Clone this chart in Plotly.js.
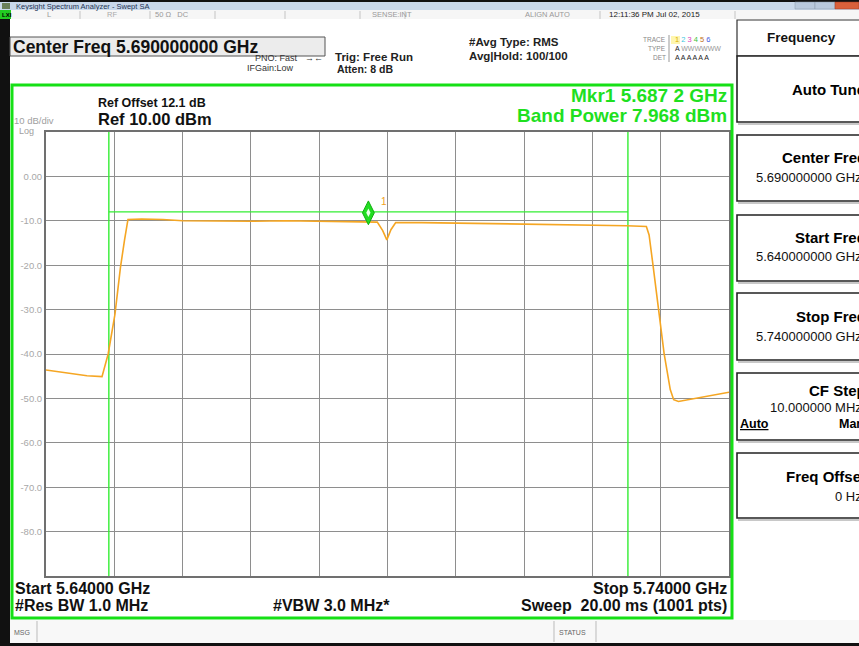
<!DOCTYPE html>
<html><head><meta charset="utf-8">
<script src="https://cdn.plot.ly/plotly-3.0.1.min.js"></script>
<style>html,body{margin:0;padding:0;background:#fff;overflow:hidden}#chart{width:859px;height:646px}</style>
</head><body><div id="chart"></div>
<script>
// ---- data ----
const freqGHz = [5.6400, 5.6420, 5.6440, 5.6460, 5.6482, 5.6491, 5.6501, 5.6509, 5.6515, 5.6520,
  5.6540, 5.6571, 5.6600, 5.6640, 5.6700, 5.6750, 5.6800, 5.6850, 5.6885, 5.6893, 5.6899, 5.6905,
  5.6912, 5.6950, 5.7000, 5.7050, 5.7100, 5.7150, 5.7200, 5.7250, 5.7279, 5.7283, 5.7289, 5.7297,
  5.7305, 5.7314, 5.7319, 5.7326, 5.7350, 5.7380, 5.7400];
const traceDbm = [-43.6, -44.0, -44.5, -44.9, -45.1, -40.0, -31.0, -20.5, -14.3, -9.7,
  -9.6, -9.7, -10.0, -10.1, -10.1, -10.0, -10.1, -10.2, -10.3, -12.2, -14.3, -12.0,
  -10.4, -10.4, -10.5, -10.6, -10.7, -10.8, -11.0, -11.1, -11.3, -13.2, -20.3, -30.1,
  -39.9, -48.0, -50.3, -50.7, -50.0, -49.1, -48.6];
const bandEdgesGHz = [5.6492, 5.7252];
const bandLevelDbm = [-8.0];
const markerFreqGHz = [5.6872];
const markerDbm = [-8.2];
const xRange = [5.64, 5.74];
const yRange = [-90, 10];
const yTickVals = [0, -10, -20, -30, -40, -50, -60, -70, -80];
const yTickText = ['0.00', '-10.0', '-20.0', '-30.0', '-40.0', '-50.0', '-60.0', '-70.0', '-80.0'];

// ---- page geometry helpers (pixel -> paper) ----
const W = 859, H = 646, L = 46, R = 729, T = 132, B = 576;
const px = x => (x - L) / (R - L);
const py = y => (B - y) / (B - T);
const F = 'Liberation Sans, Arial, sans-serif';
const ann = [];
function A(text, x, y, o) {
  o = o || {};
  ann.push({text: text, xref: 'paper', yref: 'paper', x: px(x), y: py(y),
    xanchor: o.xa || 'left', yanchor: 'middle', showarrow: false,
    font: {family: F, size: o.s || 11, color: o.c || '#000'}});
}
const shp = [];
function Rct(x0, y0, x1, y1, fill, lc, lw) {
  shp.push({type: 'rect', xref: 'paper', yref: 'paper', x0: px(x0), x1: px(x1), y0: py(y0), y1: py(y1),
    fillcolor: fill || 'rgba(0,0,0,0)', line: {color: lc || 'rgba(0,0,0,0)', width: lw || 0}, layer: 'above'});
}
function Ln(x0, y0, x1, y1, lc, lw) {
  shp.push({type: 'line', xref: 'paper', yref: 'paper', x0: px(x0), x1: px(x1), y0: py(y0), y1: py(y1),
    line: {color: lc, width: lw || 1}, layer: 'above'});
}

// window chrome
Rct(0, 0, 859, 2, '#111');
Rct(0, 2, 859, 10, '#c9d8ea');
Rct(2, 3, 10, 9, '#6a7f5a');
A('Keysight Spectrum Analyzer - Swept SA', 14, 6, {s: 7.5, c: '#223355'});
Rct(795, 2, 815, 9, '#b8c8dc', '#8899aa', 0.5);
Rct(815, 2, 835, 9, '#b8c8dc', '#8899aa', 0.5);
Rct(835, 2, 859, 9, '#d9603b', '#a03a20', 0.5);
// status row
Rct(0, 10, 859, 19, '#f6f6f6');
Rct(0, 10, 11, 19, '#22cc22');
A('<b>LXI</b>', 0, 14.5, {s: 6, c: '#000'});
A('L', 45, 14.5, {s: 7.5, c: '#999'});
A('RF', 105, 14.5, {s: 7.5, c: '#aaa'});
A('50 Ω   DC', 153, 14.5, {s: 7.5, c: '#999'});
A('SENSE:INT', 370, 14.5, {s: 7.5, c: '#999'});
A('ALIGN AUTO', 523, 14.5, {s: 7.5, c: '#999'});
A('12:11:36 PM Jul 02, 2015', 607, 14.5, {s: 8, c: '#222'});
[80, 150, 215, 285, 360, 405, 600, 735].forEach(x => Ln(x, 11, x, 19, '#c4c4c4', 1));
// left black strip and bottom
Rct(0, 19, 10, 646, '#111');
Rct(0, 643, 859, 646, '#111');

// header
Rct(10, 37, 325, 56, '#ececec', '#555', 1);
A('<b>Center Freq 5.690000000 GHz</b>', 11, 47, {s: 17.5, c: '#111'});
A('PNO: Fast', 300, 58, {s: 9, c: '#333', xa: 'right'});
A('IFGain:Low', 296, 68, {s: 9, c: '#333', xa: 'right'});
A('→←', 303, 58, {s: 9, c: '#333'});
A('<b>Trig: Free Run</b>', 333, 56.5, {s: 11.5, c: '#222'});
A('<b>Atten: 8 dB</b>', 335, 69, {s: 10.5, c: '#222'});
A('<b>#Avg Type: RMS</b>', 467, 42, {s: 11.5, c: '#222'});
A('<b>Avg|Hold: 100/100</b>', 467, 56, {s: 11.5, c: '#222'});
A('TRACE', 668, 40, {s: 6.5, c: '#888', xa: 'right'});
A('TYPE', 668, 48.5, {s: 6.5, c: '#888', xa: 'right'});
A('DET', 668, 57, {s: 6.5, c: '#888', xa: 'right'});
Ln(669, 35, 669, 62, '#999', 1);
Rct(671, 36, 680, 44, '#fff6b0');
A('<span style="color:#d8b000">1</span> <span style="color:#40c8e0">2</span> <span style="color:#e040c0">3</span> <span style="color:#40c040">4</span> <span style="color:#c07020">5</span> <span style="color:#4060e0">6</span>', 673, 40, {s: 7.5});
A('A <span style="color:#999">WWWWWW</span>', 673, 48.5, {s: 7, c: '#222'});
A('A A A A A A', 673, 57, {s: 7, c: '#222'});

// soft key panel
Rct(735, 19, 870, 620, '#ffffff');
Rct(737, 20, 872, 56, '#ffffff', '#333', 1.2);
A('<b>Frequency</b>', 801, 38, {s: 13.5, c: '#111', xa: 'center'});
const keys = [[56, 122], [135, 201], [215, 281], [293, 360], [373, 440], [453, 518]];
keys.forEach(k => { Rct(737, k[0], 872, k[1], '#ffffff', '#222', 1.6); Ln(738, k[1] + 2, 870, k[1] + 2, '#c8c8c8', 2); });
A('<b>Auto Tune</b>', 867, 89, {s: 15, xa: 'right'});
A('<b>Center Freq</b>', 868, 158, {s: 15, xa: 'right'});
A('5.690000000 GHz', 864, 177, {s: 13, xa: 'right', c: '#111'});
A('<b>Start Freq</b>', 868, 237, {s: 15, xa: 'right'});
A('5.640000000 GHz', 864, 256, {s: 13, xa: 'right', c: '#111'});
A('<b>Stop Freq</b>', 868, 316, {s: 15, xa: 'right'});
A('5.740000000 GHz', 864, 336, {s: 13, xa: 'right', c: '#111'});
A('<b>CF Step</b>', 868, 390, {s: 15, xa: 'right'});
A('10.000000 MHz', 864, 407, {s: 13, xa: 'right', c: '#111'});
A('<b><u>Auto</u></b>', 738, 424, {s: 12.5});
A('<b>Man</b>', 866, 424, {s: 12.5, xa: 'right'});
A('<b>Freq Offset</b>', 868, 476, {s: 15, xa: 'right'});
A('0 Hz', 864, 496, {s: 13, xa: 'right', c: '#111'});

// green display frame
Rct(12, 85, 732, 618, 'rgba(0,0,0,0)', '#16e016', 3);
// in-frame text
A('<b>Ref Offset 12.1 dB</b>', 96, 103, {s: 12.5, c: '#111'});
A('<b>Ref 10.00 dBm</b>', 96, 119, {s: 16.5, c: '#111'});
A('10 dB/div', 12, 121, {s: 9.5, c: '#a0a0a0'});
A('Log', 17, 131, {s: 9, c: '#a0a0a0'});
A('<b>Mkr1 5.687 2 GHz</b>', 729, 96, {s: 19, c: '#1fe01f', xa: 'right'});
A('<b>Band Power 7.968 dBm</b>', 729, 115, {s: 19, c: '#1fe01f', xa: 'right'});
A('<b>Start 5.64000 GHz</b>', 13, 588, {s: 16, c: '#111'});
A('<b>#Res BW 1.0 MHz</b>', 13, 605, {s: 16, c: '#111'});
A('<b>#VBW 3.0 MHz*</b>', 271, 605, {s: 16, c: '#111'});
A('<b>Stop 5.74000 GHz</b>', 729, 588, {s: 16, c: '#111', xa: 'right'});
A('<b>Sweep  20.00 ms (1001 pts)</b>', 729, 605, {s: 16, c: '#111', xa: 'right'});
A('1', 379, 201, {s: 10, c: '#f0a020'});

// bottom message bar
Rct(10, 620, 859, 643, '#f8f8f8');
A('MSG', 12, 632, {s: 7, c: '#666'});
Ln(37, 621, 37, 642, '#bbb', 1);
Ln(554, 621, 554, 642, '#bbb', 1);
Ln(596, 621, 596, 642, '#bbb', 1);
A('STATUS', 557, 632, {s: 7, c: '#666'});

// ---- traces ----
const bandX = [bandEdgesGHz[0], bandEdgesGHz[0], null, bandEdgesGHz[1], bandEdgesGHz[1], null, bandEdgesGHz[0], bandEdgesGHz[1]];
const bandY = [yRange[0], yRange[1], null, yRange[0], yRange[1], null, bandLevelDbm[0], bandLevelDbm[0]];
const data = [
  {x: bandX, y: bandY, type: 'scatter', mode: 'lines', line: {color: '#33ee33', width: 1.4}, hoverinfo: 'skip', connectgaps: false},
  {x: freqGHz, y: traceDbm, type: 'scatter', mode: 'lines', line: {color: '#f5a623', width: 1.6}},
  {x: markerFreqGHz, y: markerDbm, type: 'scatter', mode: 'markers',
    marker: {symbol: 'diamond-tall', size: 17, color: '#22dd22', line: {color: '#10b010', width: 1}}},
  {x: markerFreqGHz, y: markerDbm, type: 'scatter', mode: 'markers',
    marker: {symbol: 'diamond-tall', size: 6, color: '#eaffea', line: {width: 0}}}
];

const layout = {
  width: W, height: H, showlegend: false,
  paper_bgcolor: '#ffffff', plot_bgcolor: '#ffffff',
  margin: {l: L, r: W - R, t: T, b: H - B, pad: 0},
  xaxis: {range: xRange, dtick: 0.01, tick0: 5.64, showticklabels: false, ticks: '',
    showgrid: true, gridcolor: '#8e8e8e', gridwidth: 1, zeroline: false,
    showline: true, mirror: true, linecolor: '#707070', linewidth: 2},
  yaxis: {range: yRange, tickvals: yTickVals, ticktext: yTickText, ticks: '',
    showgrid: true, gridcolor: '#8e8e8e', gridwidth: 1, zeroline: false,
    showline: true, mirror: true, linecolor: '#707070', linewidth: 2,
    tickfont: {family: F, size: 9.5, color: '#a8a8a8'}},
  annotations: ann, shapes: shp
};
Plotly.newPlot('chart', data, layout, {staticPlot: true, displayModeBar: false});
</script></body></html>
